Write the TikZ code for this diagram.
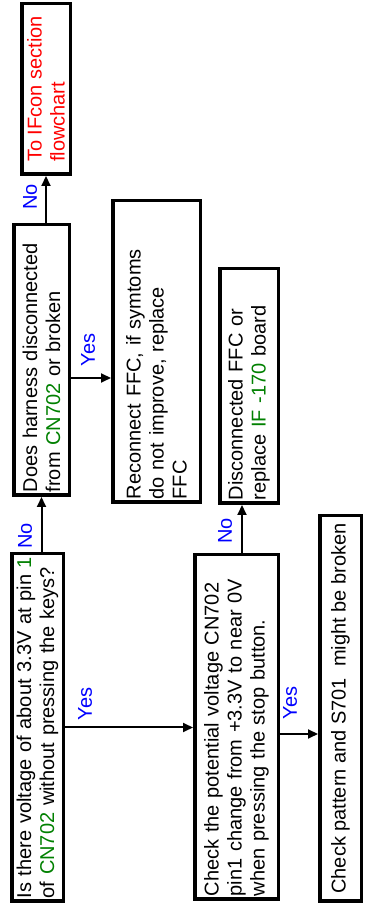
\documentclass[tikz,border=0pt]{standalone}
\usepackage{fontspec}
\setmainfont{Liberation Sans}
\usetikzlibrary{arrows.meta}
\definecolor{pinGreen}{RGB}{0,128,0}

\begin{document}
\begin{tikzpicture}[x=1pt, y=1pt,
  every node/.style={font=\fontsize{20}{23}\selectfont},
  box/.style={draw, line width=3.5pt, rotate=90, inner xsep=3pt, inner ysep=0pt, align=left},
  arr/.style={line width=2pt, -{Triangle[length=10pt,width=9pt]}},
  ans/.style={text=blue, rotate=90, inner sep=0pt}]
  \useasboundingbox (0,0) rectangle (366,908);

  % questions and actions
  \node[box, text width=341.5pt, minimum height=51.5pt] (volt) at (37.5,180.5)
    {\mbox{Is there voltage of about 3.3V at pin~\textcolor{pinGreen}{1}}\\
     of \textcolor{pinGreen}{CN702} without pressing the keys?};
  \node[box, text width=264.5pt, minimum height=55.5pt] (harness) at (41.5,548)
    {Does harness disconnected\\ from \textcolor{pinGreen}{CN702} or broken};
  \node[box, minimum width=170.5pt, minimum height=48.5pt, text=red] (ifcon) at (46,819)
    {To IFcon section\\ flowchart};
  \node[box, text width=295.5pt, minimum height=87.5pt] (reconnect) at (156.5,556.5)
    {Reconnect FFC, if symtoms\\ do not improve, replace\\ FFC};
  \node[box, text width=228.5pt, minimum height=58.5pt] (replace) at (249,522)
    {Disconnected FFC or\\ replace \textcolor{pinGreen}{IF -170} board};
  \node[box, text width=338.5pt, minimum height=83.5pt] (stopbtn) at (236.5,181)
    {Check the potential voltage CN702\\ pin1 change from +3.3V to near 0V\\ when pressing the stop button.};
  \node[box, minimum width=385.5pt, minimum height=41.5pt] (pattern) at (340.5,199.5)
    {Check pattern and S701~~might be broken};

  % connectors
  \draw[arr] (volt.east -| harness.west) -- (harness.west);
  \draw[arr] (harness.east -| ifcon.west) -- (ifcon.west);
  \draw[arr] (volt.south) -- (volt.south -| stopbtn.north);
  \coordinate (yesR) at ([yshift=-18pt]harness.south);
  \draw[arr] (yesR) -- (yesR -| reconnect.north);
  \coordinate (noS) at ([xshift=5.5pt]stopbtn.east);
  \draw[arr] (noS) -- (noS |- replace.west);
  \coordinate (yesS) at ([yshift=-7pt]stopbtn.south);
  \draw[arr] (yesS) -- (yesS -| pattern.north);

  % answers
  \node[ans] (noV)  at (25,372)  {No};
  \node[ans] (yesV) at (85,204)  {Yes};
  \node[ans] (noH)  at (30,711)  {No};
  \node[ans] (yesH) at (88,558)  {Yes};
  \node[ans] (noC)  at (225,377) {No};
  \node[ans] (yesC) at (290,205) {Yes};
\end{tikzpicture}
\end{document}
